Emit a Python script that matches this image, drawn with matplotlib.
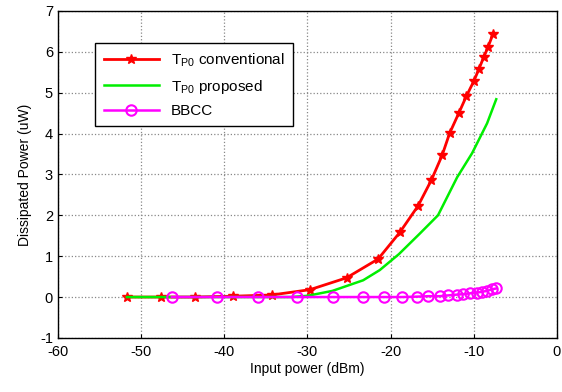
import matplotlib
matplotlib.use("Agg")
import matplotlib.pyplot as plt

plt.rcParams["font.family"] = ["Liberation Sans", "DejaVu Sans"]
plt.rcParams["axes.unicode_minus"] = False

# T_P0 conventional
conv_x = [-51.7, -47.6, -43.5, -39.0, -34.3, -29.7, -25.3, -21.5, -18.9, -16.7,
          -15.1, -13.8, -12.9, -11.8, -10.9, -10.0, -9.4, -8.8, -8.3, -7.7]
conv_y = [0.0, 0.0, 0.0, 0.02, 0.05, 0.18, 0.47, 0.93, 1.58, 2.23,
          2.86, 3.47, 4.01, 4.5, 4.91, 5.28, 5.57, 5.87, 6.11, 6.43]

# T_P0 proposed
prop_x = [-51.7, -40.0, -32.0, -30.0, -27.0, -23.3, -21.3, -19.0, -16.5, -14.3,
          -12.0, -10.2, -8.4, -7.3]
prop_y = [0.0, 0.0, 0.0, 0.03, 0.15, 0.41, 0.66, 1.05, 1.55, 2.0,
          2.93, 3.52, 4.25, 4.84]

# BBCC
bbcc_x = [-46.3, -40.9, -35.9, -31.2, -26.9, -23.3, -20.8, -18.6, -16.8, -15.5,
          -14.1, -13.1, -12.0, -11.3, -10.5, -9.6, -9.0, -8.4, -7.8, -7.3]
bbcc_y = [0.0, 0.0, 0.0, 0.0, 0.0, 0.0, 0.0, 0.0, 0.01, 0.02,
          0.02, 0.04, 0.06, 0.07, 0.09, 0.11, 0.13, 0.15, 0.19, 0.21]

fig = plt.figure(figsize=(5.62, 3.92), dpi=100)
ax = fig.add_axes([0.103, 0.138, 0.888, 0.834])

ax.plot(conv_x, conv_y, color="red", linewidth=2, marker="*", markersize=7.5,
        label="T$_{\\mathregular{P0}}$ conventional")
ax.plot(prop_x, prop_y, color="#00ee00", linewidth=1.8,
        label="T$_{\\mathregular{P0}}$ proposed")
ax.plot(bbcc_x, bbcc_y, color="magenta", linewidth=1.8, marker="o", markersize=7.5,
        markerfacecolor="none", markeredgewidth=1.5, label="BBCC")

ax.set_xlim(-60, 0)
ax.set_ylim(-1, 7)
ax.set_xticks(range(-60, 1, 10))
ax.set_yticks(range(-1, 8))
ax.tick_params(direction="in", labelsize=10.5, length=3)
ax.tick_params(axis="x", pad=5)
ax.grid(True, linestyle=":", color="#888888", linewidth=0.9)
for s in ax.spines.values():
    s.set_linewidth(1)

ax.set_xlabel("Input power (dBm)", fontsize=10, labelpad=2)
ax.set_ylabel("Dissipated Power (uW)", fontsize=10, labelpad=6)

leg = ax.legend(loc="upper left", bbox_to_anchor=(0.06, 0.925), fontsize=11,
                frameon=True, fancybox=False, edgecolor="black", framealpha=1,
                handlelength=3.6, borderpad=0.55, labelspacing=0.55)
leg.get_frame().set_linewidth(1)

fig.savefig("out.png", dpi=100)
